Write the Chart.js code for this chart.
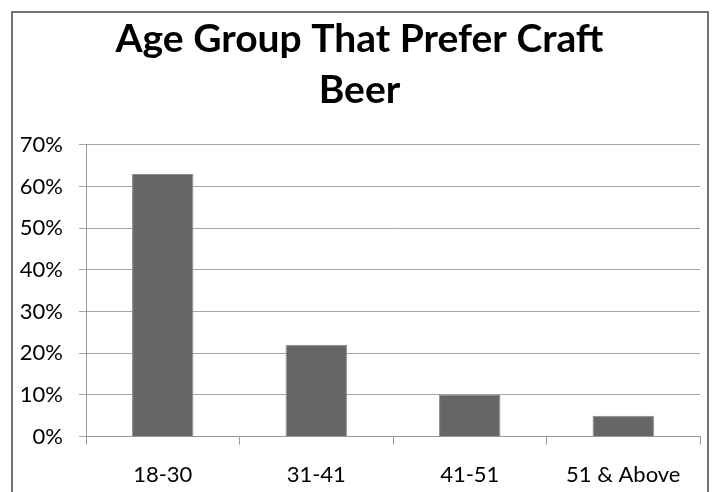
<!DOCTYPE html>
<html>
<head>
<meta charset="utf-8">
<script src="https://cdn.jsdelivr.net/npm/chart.js@4.4.1/dist/chart.umd.min.js"></script>
<style>
  html, body { margin: 0; padding: 0; background: #fff; }
  #wrap { width: 713px; height: 492px; }
</style>
</head>
<body>
<div id="wrap"><canvas id="beerChart" width="713" height="492"></canvas></div>
<script>
const ageGroups = ["18-30", "31-41", "41-51", "51 & Above"];
const preferShare = [0.63, 0.22, 0.10, 0.05];
const yTicks = [0, 0.1, 0.2, 0.3, 0.4, 0.5, 0.6, 0.7];

const fontFamily = "Lato, 'Open Sans', sans-serif";

// thin frame around the whole chart, open at the bottom
const framePlugin = {
  id: "frame",
  beforeDraw(chart) {
    const ctx = chart.ctx;
    ctx.save();
    ctx.strokeStyle = "#444";
    ctx.lineWidth = 1.5;
    ctx.beginPath();
    ctx.moveTo(12, chart.height + 2);
    ctx.lineTo(12, 12);
    ctx.lineTo(708, 12);
    ctx.lineTo(708, chart.height + 2);
    ctx.stroke();
    ctx.restore();
  }
};

function barFill(context) {
  const chart = context.chart;
  const el = context.element;
  if (!el || el.y === undefined || !chart.chartArea) return "#666";
  const top = el.y, bottom = el.base;
  if (!isFinite(top) || !isFinite(bottom) || bottom - top < 1) return "#666";
  const g = chart.ctx.createLinearGradient(0, top, 0, bottom);
  g.addColorStop(0, "#5a5a5a");
  g.addColorStop(0.55, "#767676");
  g.addColorStop(1, "#636363");
  return g;
}

new Chart(document.getElementById("beerChart"), {
  type: "bar",
  data: {
    labels: ageGroups,
    datasets: [{
      data: preferShare,
      backgroundColor: barFill,
      borderColor: "#8a8a8a",
      borderWidth: 1,
      categoryPercentage: 0.8,
      barPercentage: 0.5
    }]
  },
  options: {
    responsive: false,
    animation: false,
    layout: { padding: { left: 19, right: 13, top: 13, bottom: -13 } },
    plugins: {
      legend: { display: false },
      tooltip: { enabled: false },
      title: {
        display: true,
        text: ["Age Group That Prefer Craft", "Beer"],
        color: "#000",
        font: { family: fontFamily, size: 39, weight: "bold", lineHeight: 1.33 },
        padding: { top: 0, bottom: 28 }
      }
    },
    scales: {
      x: {
        grid: { drawOnChartArea: false, offset: true, tickLength: 8, color: "#999" },
        border: { color: "#999" },
        ticks: { color: "#000", font: { family: fontFamily, size: 22 }, padding: 17 }
      },
      y: {
        min: 0,
        max: 0.7,
        afterBuildTicks(axis) { axis.ticks = yTicks.map(v => ({ value: v })); },
        afterFit(axis) { axis.width = 67; },
        grid: { color: "#a6a6a6", tickLength: 7 },
        border: { color: "#999" },
        ticks: {
          color: "#000",
          font: { family: fontFamily, size: 22 },
          padding: 16,
          callback: v => Math.round(v * 100) + "%"
        }
      }
    }
  },
  plugins: [framePlugin]
});
</script>
</body>
</html>
